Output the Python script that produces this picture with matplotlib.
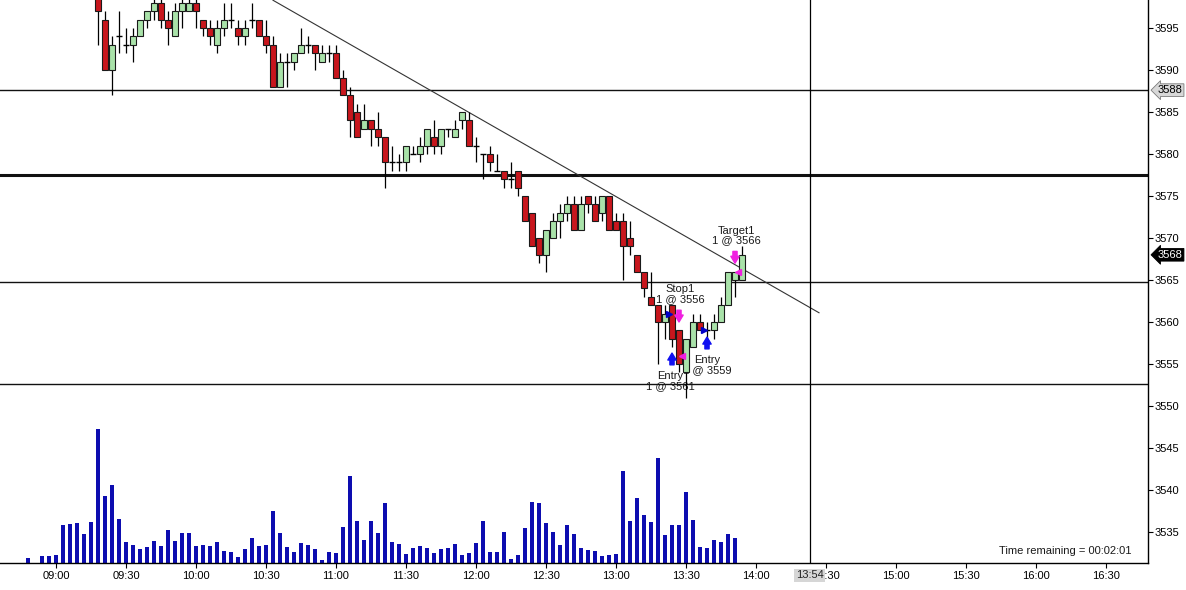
import numpy as np
import matplotlib
matplotlib.use("Agg")
import matplotlib.pyplot as plt

plt.rcParams['font.family'] = ['Liberation Sans', 'DejaVu Sans']

# 3 minute bars, times are bar close stamps
bar_minutes = 3
candle_start = "09:18"
opens = [3603, 3596, 3590, 3594, 3593, 3593, 3594, 3596, 3597, 3598,
         3596, 3594, 3597, 3597, 3598, 3596, 3595, 3593, 3595, 3596,
         3595, 3594, 3596, 3596, 3594, 3593, 3588, 3591, 3591, 3592,
         3593, 3593, 3591, 3592, 3592, 3589, 3587, 3585, 3583, 3584,
         3583, 3582, 3579, 3579, 3579, 3580, 3580, 3581, 3582, 3581,
         3583, 3582, 3584, 3584, 3581, 3580, 3580, 3578, 3578, 3577,
         3578, 3575, 3573, 3570, 3568, 3570, 3572, 3573, 3574, 3571,
         3575, 3574, 3573, 3575, 3572, 3572, 3570, 3568, 3566, 3563,
         3562, 3560, 3562, 3559, 3554, 3557, 3560, 3559, 3559, 3560,
         3562, 3565, 3565]
highs = [3604, 3597, 3594, 3597, 3595, 3595, 3596, 3597, 3599, 3599,
         3597, 3598, 3599, 3599, 3599, 3596, 3596, 3596, 3598, 3598,
         3596, 3596, 3598, 3596, 3596, 3594, 3592, 3592, 3592, 3595,
         3594, 3593, 3593, 3593, 3593, 3590, 3588, 3586, 3586, 3584,
         3585, 3582, 3581, 3580, 3581, 3581, 3582, 3583, 3584, 3583,
         3583, 3584, 3585, 3585, 3582, 3580, 3581, 3580, 3578, 3579,
         3578, 3575, 3573, 3570, 3571, 3573, 3574, 3575, 3575, 3575,
         3575, 3575, 3575, 3575, 3573, 3573, 3572, 3568, 3566, 3566,
         3562, 3562, 3562, 3559, 3558, 3561, 3561, 3560, 3561, 3563,
         3566, 3566, 3569]
lows = [3593, 3590, 3587, 3592, 3592, 3591, 3594, 3595, 3596, 3595,
        3593, 3594, 3595, 3597, 3595, 3594, 3593, 3592, 3594, 3595,
        3593, 3593, 3595, 3594, 3592, 3588, 3588, 3588, 3590, 3592,
        3592, 3590, 3591, 3591, 3589, 3587, 3582, 3582, 3583, 3581,
        3581, 3576, 3578, 3578, 3578, 3580, 3579, 3580, 3580, 3580,
        3582, 3582, 3583, 3581, 3579, 3577, 3578, 3578, 3576, 3576,
        3575, 3572, 3569, 3567, 3566, 3570, 3570, 3572, 3571, 3571,
        3573, 3572, 3572, 3571, 3571, 3565, 3568, 3566, 3563, 3562,
        3555, 3558, 3557, 3554, 3551, 3557, 3559, 3558, 3558, 3560,
        3562, 3563, 3565]
closes = [3597, 3590, 3593, 3594, 3593, 3594, 3596, 3597, 3598, 3596,
          3595, 3597, 3598, 3598, 3597, 3595, 3594, 3595, 3596, 3596,
          3594, 3595, 3596, 3594, 3593, 3588, 3591, 3591, 3592, 3593,
          3593, 3592, 3592, 3592, 3589, 3587, 3584, 3582, 3584, 3583,
          3582, 3579, 3579, 3579, 3581, 3580, 3581, 3583, 3581, 3583,
          3583, 3583, 3585, 3581, 3581, 3580, 3579, 3578, 3577, 3577,
          3576, 3572, 3569, 3568, 3571, 3572, 3573, 3574, 3571, 3574,
          3574, 3572, 3575, 3571, 3571, 3569, 3569, 3566, 3564, 3562,
          3560, 3561, 3558, 3555, 3558, 3560, 3559, 3559, 3560, 3562,
          3566, 3566, 3568]

vol_start = "08:48"
volumes = [160, 0, 200, 200, 250, 1150, 1180, 1210, 880, 1240,
           4030, 2020, 2350, 1310, 640, 550, 430, 470, 670, 520,
           1000, 670, 910, 910, 520, 550, 520, 640, 370, 340,
           190, 430, 760, 520, 550, 1570, 910, 490, 340, 610,
           550, 430, 100, 340, 310, 1090, 2620, 1270, 700, 1270,
           910, 1810, 640, 580, 280, 460, 520, 460, 310, 430,
           460, 580, 250, 310, 610, 1270, 340, 340, 940, 130,
           250, 1060, 1840, 1810, 1210, 940, 550, 1150, 880, 460,
           400, 370, 220, 250, 280, 2770, 1270, 1960, 1450, 1240,
           3160, 850, 1150, 1150, 2140, 1300, 490, 460, 700, 640,
           880, 750]

# horizontal lines drawn on the chart
level_prices = [3587.6, 3577.5, 3564.8, 3552.6]
level_widths = [1.0, 2.2, 1.0, 1.0]
trend_times = ["10:33", "14:27"]
trend_prices = [3598.3, 3561.1]
cursor_time = "14:23"
cursor_label = "13:54"

# executions: (bar time, fill price, side) and the signal arrow tip on that bar
exec_times = ["13:24", "13:27", "13:39", "13:51"]
exec_prices = [3561, 3556, 3559, 3566]
exec_side = ["buy", "sell", "buy", "sell"]
arrow_tips = [3556.3, 3560.0, 3558.2, 3567.0]
signal_labels = ["Entry\n1 @ 3561", "Stop1\n1 @ 3556", "Entry\n1 @ 3559", "Target1\n1 @ 3566"]

xtick_labels = ["09:00", "09:30", "10:00", "10:30", "11:00", "11:30", "12:00", "12:30",
                "13:00", "13:30", "14:00", "14:30", "15:00", "15:30", "16:00", "16:30"]
ytick_vals = list(range(3535, 3600, 5))


def hm(s):
    h, m = s.split(":")
    return int(h) * 60 + int(m)


t_candle = hm(candle_start) + bar_minutes * np.arange(len(opens))
t_vol = hm(vol_start) + bar_minutes * np.arange(len(volumes))
o, h, l, c = map(np.array, (opens, highs, lows, closes))

fig = plt.figure(figsize=(11.86, 5.90), dpi=100)
ax = fig.add_axes([0, 27 / 590, 1148 / 1186, 563 / 590])
vax = ax.twinx()
ax.set_zorder(vax.get_zorder() + 1)
ax.patch.set_visible(False)

# volume
vax.bar(t_vol, volumes, width=1.3, color="#0d0db0", linewidth=0)
vax.set_ylim(0, 16900)
vax.set_yticks([])
for s in vax.spines.values():
    s.set_visible(False)

# levels and trend line
for p, w in zip(level_prices, level_widths):
    ax.axhline(p, color="#111111", lw=w, zorder=1)
ax.plot([hm(t) for t in trend_times], trend_prices, color="#333333", lw=0.8, zorder=1)
ax.axvline(hm(cursor_time), color="black", lw=0.9, zorder=1)

# candles
bw = 2.15
ax.vlines(t_candle, l, h, color="black", lw=0.9, zorder=3)
up = c > o
dn = c < o
ax.bar(t_candle[up], (c - o)[up], bottom=o[up], width=bw, color="#a9e2a9",
       edgecolor="#1a1a1a", linewidth=0.8, zorder=4)
ax.bar(t_candle[dn], (o - c)[dn], bottom=c[dn], width=bw, color="#c8161d",
       edgecolor="#1a1a1a", linewidth=0.8, zorder=4)
eq = c == o
ax.hlines(c[eq], t_candle[eq] - bw / 2, t_candle[eq] + bw / 2, color="black", lw=1.0, zorder=4)

# executions, signal arrows and labels
astyle = "simple,head_length=0.5,head_width=0.6,tail_width=0.3"
for tm, pr, sd, tip, lab in zip(exec_times, exec_prices, exec_side, arrow_tips, signal_labels):
    bt = hm(tm)
    if sd == "buy":
        col = "#1010f0"
        ax.plot(bt - 1.3, pr, marker=">", ms=5, color="#0000c8", mec="#0000c8", zorder=6)
        tail = tip - 1.4
        ax.annotate("", xy=(bt, tip), xytext=(bt, tail),
                    arrowprops=dict(arrowstyle=astyle, fc=col, ec=col, mutation_scale=10,
                                    shrinkA=0, shrinkB=0), zorder=6)
        ax.text(bt - 0.6 if pr > 3560 else bt, tail - 0.75, lab, ha="center", va="top",
                fontsize=8, linespacing=1.0, color="#1a1a1a", zorder=2)
    else:
        col = "#f020e0"
        ax.plot(bt + 1.3, pr, marker="<", ms=5, color=col, mec=col, zorder=6)
        tail = tip + 1.4
        ax.annotate("", xy=(bt, tip), xytext=(bt, tail),
                    arrowprops=dict(arrowstyle=astyle, fc=col, ec=col, mutation_scale=10,
                                    shrinkA=0, shrinkB=0), zorder=6)
        ax.text(bt + 0.6, tail + 0.7, lab, ha="center", va="bottom", fontsize=8,
                linespacing=1.0, color="#1a1a1a", zorder=2)

# axes
ax.set_xlim(hm("08:36"), hm("16:48"))
ax.set_ylim(3531.31, 3598.33)
vax.set_xlim(ax.get_xlim())
ax.set_xticks([hm(s) for s in xtick_labels])
ax.set_xticklabels(xtick_labels)
ax.yaxis.tick_right()
ax.set_yticks(ytick_vals)
ax.set_yticklabels([str(v) for v in ytick_vals])
ax.tick_params(axis="both", labelsize=8, length=3.5, width=0.8, direction="out", colors="black")
ax.tick_params(axis="y", pad=1.5)
ax.tick_params(axis="x", pad=2)
for side in ["top", "left"]:
    ax.spines[side].set_visible(False)
ax.spines["right"].set_linewidth(1.0)
ax.spines["bottom"].set_linewidth(1.0)

# price markers on the right axis
ax.annotate("3588", xy=(1, level_prices[0]), xycoords=("axes fraction", "data"),
            xytext=(7, 0), textcoords="offset points", ha="left", va="center", fontsize=8,
            color="black", annotation_clip=False,
            bbox=dict(boxstyle="larrow,pad=0.12", fc="#d8d8d8", ec="#7a7a7a", lw=0.6))
ax.annotate(str(closes[-1]), xy=(1, closes[-1]), xycoords=("axes fraction", "data"),
            xytext=(7, 0), textcoords="offset points", ha="left", va="center", fontsize=8,
            color="white", annotation_clip=False,
            bbox=dict(boxstyle="larrow,pad=0.12", fc="black", ec="black", lw=0.6))

# cursor time label and time remaining
ax.text(hm(cursor_time), -0.022, cursor_label, transform=ax.get_xaxis_transform(),
        ha="center", va="center", fontsize=8, color="#222222", zorder=10,
        bbox=dict(boxstyle="square,pad=0.15", fc="#d6d6d6", ec="none"))
ax.text(0.986, 0.021, "Time remaining = 00:02:01", transform=ax.transAxes,
        ha="right", va="center", fontsize=8, color="#1a1a1a")

fig.savefig("out.png", dpi=100, facecolor="white")
